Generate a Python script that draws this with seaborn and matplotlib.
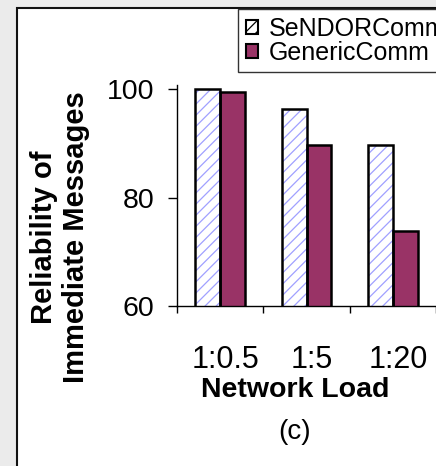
import matplotlib
matplotlib.use("Agg")
import matplotlib.pyplot as plt
from matplotlib.patches import Rectangle, Patch
from matplotlib.transforms import ScaledTranslation
import seaborn as sns
import pandas as pd

categories = ["1:0.5", "1:5", "1:20"]
series = ["SeNDORComm", "GenericComm"]
sendor = [100.0, 96.4, 89.7]
generic = [99.5, 89.7, 73.9]
y_ticks = [60, 80, 100]

df = pd.DataFrame({
    "load": categories * 2,
    "series": [series[0]] * len(categories) + [series[1]] * len(categories),
    "value": sendor + generic,
})

sns.set_theme(style="white")
plt.rcParams["font.family"] = ["Liberation Sans", "DejaVu Sans"]
plt.rcParams["hatch.linewidth"] = 0.9
plt.rcParams["text.color"] = "black"
plt.rcParams["xtick.color"] = "black"
plt.rcParams["ytick.color"] = "black"
plt.rcParams["axes.labelcolor"] = "black"

W, H = 436, 466
fig = plt.figure(figsize=(W / 100, H / 100), dpi=100, facecolor="#ebebeb")

# white panel with black border
panel = Rectangle((17 / W, -0.1), 1.2, (H - 8) / H + 0.1,
                  transform=fig.transFigure, facecolor="white",
                  edgecolor="#111111", linewidth=1.5, zorder=-10)
fig.patches.append(panel)

ax_left = 177 / W
ax_bottom = (H - 306) / H
ax_top = (H - 85) / H
ax = fig.add_axes([ax_left, ax_bottom, 1 - ax_left, ax_top - ax_bottom])
ax.set_facecolor("none")
ax.set_zorder(1)

palette = {series[0]: "white", series[1]: "#993366"}
sns.barplot(data=df, x="load", y="value", hue="series", order=categories,
            hue_order=series, palette=palette, width=0.575, ax=ax,
            edgecolor="black", linewidth=1.8, saturation=1, legend=False)

# hatch the SeNDORComm bars with light blue lines and re-outline them in black
sendor_bars = ax.containers[0]
for p in sendor_bars:
    p.set_hatch("///")
    p.set_edgecolor("#a0a0ff")
    p.set_linewidth(0)
    ax.add_patch(Rectangle(p.get_xy(), p.get_width(), p.get_height(),
                           fill=False, edgecolor="black", linewidth=1.8,
                           zorder=p.get_zorder() + 0.1))

ax.set_ylim(60, 100.75)
ax.set_xlim(-0.5, -0.5 + (W - 177) / 91.0)

ax.set_yticks(y_ticks)
ax.set_yticklabels([str(t) for t in y_ticks], fontsize=20.5)
ax.tick_params(axis="y", direction="out", length=6.5, width=1, color="black",
               pad=10, left=True)

ax.set_xticks([i - 0.5 for i in range(len(categories) + 1)])
ax.set_xticklabels([])
ax.set_xticks(range(len(categories)), minor=True)
ax.set_xticklabels(categories, minor=True, fontsize=22)
ax.tick_params(axis="x", which="major", direction="out", length=5, width=1,
               color="black", bottom=True)
ax.tick_params(axis="x", which="minor", length=0, pad=28)
shift = ScaledTranslation(0.05, 0, fig.dpi_scale_trans)
for lbl in ax.get_xticklabels(minor=True):
    lbl.set_transform(lbl.get_transform() + shift)

for s in ["top", "right"]:
    ax.spines[s].set_visible(False)
for s in ["left", "bottom"]:
    ax.spines[s].set_color("black")
    ax.spines[s].set_linewidth(1.0)
ax.set_xlabel("")
ax.set_ylabel("")

fig.text(60 / W, (H - 237) / H, "Reliability of\nImmediate Messages",
         rotation=90, ha="center", va="center", multialignment="center",
         fontsize=21, fontweight="bold", linespacing=1.15)
fig.text(295 / W, (H - 390) / H, "Network Load", ha="center", va="center",
         fontsize=20.5, fontweight="bold")
fig.text(295 / W, (H - 432) / H, "(c)", ha="center", va="center", fontsize=20)

handles = [Patch(facecolor="white", edgecolor="black", hatch="///", linewidth=1.5),
           Patch(facecolor="#993366", edgecolor="black", linewidth=1.5)]
leg = fig.legend(handles, series, loc="upper left",
                 bbox_to_anchor=(238 / W, (H - 9) / H),
                 bbox_transform=fig.transFigure, fontsize=18,
                 frameon=True, fancybox=False, borderpad=0.3,
                 labelspacing=0.0, handlelength=0.5, handleheight=0.5,
                 handletextpad=0.45, borderaxespad=0)
leg.set_zorder(5)
leg.get_frame().set_edgecolor("#333333")
leg.get_frame().set_linewidth(1.0)
leg.get_frame().set_facecolor("white")
leg.get_frame().set_alpha(1)

fig.savefig("out.png", dpi=100, facecolor=fig.get_facecolor())
